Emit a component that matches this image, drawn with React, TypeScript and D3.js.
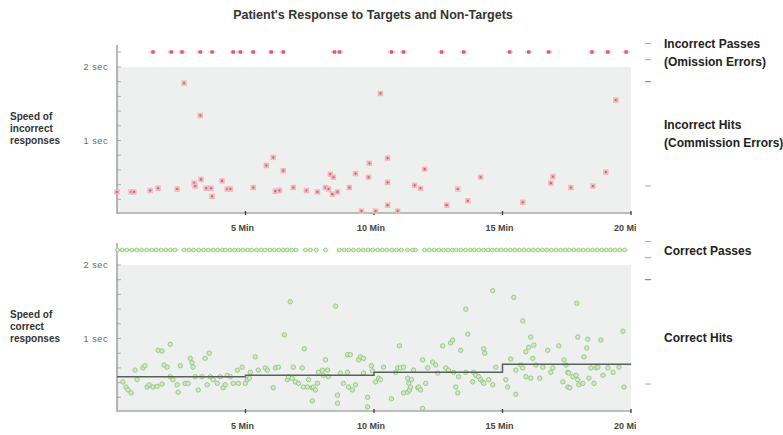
import * as d3 from "d3";

// minutes into the session at which the patient let a stimulus pass
const incorrectPassTimes = [
  1.4, 2.11, 2.53, 3.24, 3.7, 4.52, 4.8, 5.3, 6.0, 6.47, 8.46, 8.66, 10.68, 11.15, 12.63, 13.49,
  15.28, 16.02, 16.8, 18.48, 19.1, 19.81,
];

// [minute, seconds] of wrong responses
const incorrectHits: [number, number][] = [
  [0.0, 0.3], [0.55, 0.3], [0.66, 0.3], [1.29, 0.32], [1.6, 0.35], [2.34, 0.34], [2.61, 1.78],
  [3.0, 0.42], [3.04, 0.38], [3.24, 1.34], [3.27, 0.47], [3.47, 0.35], [3.66, 0.35], [3.7, 0.24],
  [4.09, 0.45], [4.29, 0.34], [4.41, 0.34], [5.3, 0.36], [5.81, 0.66], [6.08, 0.77], [6.16, 0.31],
  [6.32, 0.32], [6.47, 0.59], [6.86, 0.36], [7.37, 0.32], [7.8, 0.3], [8.11, 0.36], [8.23, 0.34],
  [8.38, 0.27], [8.3, 0.54], [8.42, 0.5], [8.58, 0.3], [9.04, 0.36], [9.28, 0.55], [9.79, 0.5],
  [9.82, 0.69], [10.25, 1.64], [10.53, 0.43], [10.53, 0.76], [10.53, 0.12], [9.51, 0.04],
  [10.06, 0.04], [10.92, 0.04], [11.58, 0.39], [11.81, 0.35], [11.97, 0.61], [12.83, 0.12],
  [13.26, 0.34], [13.65, 0.18], [14.15, 0.5], [15.79, 0.16], [16.88, 0.42], [16.96, 0.51],
  [17.66, 0.36], [18.52, 0.38], [19.02, 0.57], [19.41, 1.55],
];

const correctPassTimes = [
  0.02, 0.2, 0.38, 0.58, 0.77, 0.95, 1.16, 1.35, 1.52, 1.72, 1.9, 2.08, 2.26,
  2.61, 2.8, 2.98, 3.18, 3.37, 3.55, 3.74, 3.92, 4.1, 4.22, 4.4, 4.58, 4.72, 4.9, 5.08, 5.24,
  5.43, 5.6, 5.76, 5.95, 6.12, 6.3, 6.47, 6.62, 6.8, 6.96,
  7.33, 7.52, 7.76, 8.11,
  8.65, 8.84, 9.02, 9.2, 9.4, 9.58, 9.77, 9.95, 10.14, 10.32, 10.5, 10.7, 10.88, 11.06, 11.3,
  11.5, 11.62,
  11.97, 12.15, 12.34, 12.52, 12.7, 12.88, 13.05, 13.2, 13.38, 13.56, 13.74, 13.9, 14.08, 14.26,
  14.44, 14.6, 14.78, 14.95, 15.12, 15.3, 15.48, 15.66, 15.84, 16.02, 16.2, 16.38, 16.55, 16.72,
  16.9, 17.08, 17.26, 17.44, 17.6, 17.78, 17.96, 18.14, 18.32, 18.5, 18.68, 18.86, 19.04, 19.2,
  19.38, 19.56, 19.75,
];

const correctHits: [number, number][] = [
  [0.23, 0.41], [0.35, 0.34], [0.43, 0.3], [0.55, 0.26], [0.7, 0.57], [0.78, 0.44], [1.01, 0.6],
  [1.09, 0.63], [1.17, 0.34], [1.25, 0.37], [1.4, 0.34], [1.56, 0.35], [1.6, 0.84], [1.75, 0.83],
  [1.75, 0.38], [1.83, 0.64], [1.95, 0.61], [2.07, 0.92], [2.07, 0.48], [2.18, 0.44], [2.34, 0.37],
  [2.38, 0.27], [2.46, 0.63], [2.65, 0.39], [2.77, 0.39], [2.85, 0.73], [2.92, 0.67], [2.96, 0.61],
  [3.04, 0.48], [3.16, 0.3], [3.31, 0.48], [3.43, 0.73], [3.51, 0.37], [3.59, 0.8], [3.63, 0.48],
  [3.74, 0.44], [3.9, 0.39], [4.02, 0.48], [4.13, 0.33], [4.21, 0.37], [4.29, 0.5], [4.41, 0.48],
  [4.52, 0.39], [4.68, 0.57], [4.72, 0.39], [4.87, 0.61], [4.99, 0.39], [5.07, 0.44], [5.15, 0.46],
  [5.19, 0.54], [5.38, 0.75], [5.5, 0.57], [5.77, 0.6], [5.85, 0.57], [6.08, 0.33], [6.16, 0.6],
  [6.28, 0.61], [6.51, 1.05], [6.63, 0.44], [6.74, 1.5], [6.67, 0.48], [6.82, 0.46], [6.86, 0.61],
  [6.94, 0.41], [7.06, 0.39], [7.21, 0.6], [7.25, 0.34], [7.29, 0.86], [7.41, 0.34], [7.45, 0.44],
  [7.6, 0.33], [7.6, 0.15], [7.64, 0.34], [7.72, 0.3], [7.8, 0.39], [7.84, 0.54], [7.99, 0.57],
  [8.03, 0.5], [8.11, 0.71], [8.19, 0.57], [8.23, 0.48], [8.5, 1.44], [8.58, 0.23], [8.58, 0.12],
  [8.69, 0.53], [8.81, 0.39], [8.97, 0.78], [9.08, 0.78], [8.97, 0.54], [9.01, 0.34], [9.16, 0.3],
  [9.28, 0.37], [9.4, 0.71], [9.47, 0.75], [9.59, 0.73], [9.59, 0.53], [9.75, 0.2], [9.75, 0.07],
  [9.9, 0.63], [9.94, 0.56], [10.06, 0.41], [10.18, 0.46], [10.25, 0.44], [10.37, 0.61],
  [10.68, 0.18], [10.84, 0.54], [10.92, 0.6], [10.99, 0.9], [11.03, 0.6], [11.15, 0.61],
  [11.15, 0.26], [11.31, 0.46], [11.31, 0.27], [11.35, 0.39], [11.38, 0.3], [11.42, 0.34],
  [11.46, 0.44], [11.54, 0.57], [11.7, 0.33], [11.74, 0.34], [11.81, 0.3], [11.89, 0.71],
  [11.89, 0.05], [12.01, 0.39], [12.09, 0.6], [12.28, 0.68], [12.4, 0.64], [12.48, 0.53],
  [12.67, 0.9], [12.79, 0.6], [12.9, 0.57], [12.98, 0.94], [13.06, 0.98], [13.1, 0.54],
  [13.18, 0.34], [13.26, 0.26], [13.29, 0.48], [13.37, 0.84], [13.57, 1.4], [13.65, 1.06],
  [13.57, 0.54], [13.88, 0.54], [13.96, 0.5], [13.84, 0.41], [14.07, 0.48], [14.15, 0.44],
  [14.23, 0.41], [14.27, 0.39], [14.27, 0.86], [14.31, 0.8], [14.46, 0.44], [14.62, 0.37],
  [14.62, 1.65], [14.74, 0.61], [15.13, 0.44], [15.2, 0.34], [15.32, 0.72], [15.44, 1.56],
  [15.52, 0.57], [15.52, 0.24], [15.79, 1.24], [15.71, 0.64], [15.79, 0.6], [15.91, 0.82],
  [15.91, 0.48], [16.1, 0.46], [16.02, 0.88], [16.1, 1.02], [16.18, 0.73], [16.22, 0.91],
  [16.3, 0.64], [16.45, 0.46], [16.57, 0.61], [16.76, 0.84], [16.88, 0.54], [16.96, 0.6],
  [17.19, 0.9], [17.35, 0.41], [17.39, 0.71], [17.47, 0.64], [17.54, 0.54], [17.58, 0.53],
  [17.54, 0.34], [17.62, 0.33], [17.74, 0.48], [17.86, 0.5], [17.93, 0.44], [17.89, 1.48],
  [17.93, 1.02], [17.97, 0.37], [18.13, 0.39], [18.17, 0.75], [18.32, 0.99], [18.28, 0.87],
  [18.36, 0.46], [18.44, 0.6], [18.56, 0.39], [18.64, 0.6], [18.71, 0.61], [18.83, 0.98],
  [18.91, 0.5], [19.1, 0.6], [19.3, 0.54], [19.53, 0.61], [19.69, 1.1], [19.73, 0.34],
];

// median reaction time per 5 minute block
const medianBreaks = [0, 5, 10, 15, 20];
const medianSecs = [0.48, 0.5, 0.54, 0.65];

const xTicks = [5, 10, 15, 20];
const yLabelTicks = [2, 1];
const rightTicks = [2.32, 2.1, 1.8, 0.38];

const W = 783;
const H = 435;
const FONT = "'Liberation Sans', Arial, sans-serif";

const x = d3.scaleLinear().domain([0, 20]).range([117, 631]);

type PanelProps = {
  dy: number;
  kind: "red" | "green";
  hits: [number, number][];
  passes: number[];
  axisLabel: string[];
  rightLabels: { sec: number; lines: string[] }[];
  median?: boolean;
};

function Panel({ dy, kind, hits, passes, axisLabel, rightLabels, median }: PanelProps) {
  const y = d3.scaleLinear().domain([0, 2]).range([214 + dy, 67 + dy]);
  const passY = 52 + dy;
  const axisY = 213 + dy;
  const minor = y.ticks(10).filter((t) => t > 0);

  const stepLine = d3
    .line<[number, number]>()
    .x((d) => x(d[0]))
    .y((d) => y(d[1]));
  const stepPts: [number, number][] = [];
  medianSecs.forEach((s, i) => {
    stepPts.push([medianBreaks[i], s]);
    stepPts.push([medianBreaks[i + 1], s]);
  });

  return (
    <g>
      <rect x={x(0)} y={y(2)} width={x(20) - x(0)} height={axisY - y(2)} fill="#eeefef" />

      {/* left axis */}
      <line x1={x(0)} x2={x(0)} y1={45 + dy} y2={axisY + 1} stroke="#8a8a8a" strokeWidth={1.2} />
      {minor.map((t) => (
        <line key={t} x1={x(0)} x2={x(0) + 4} y1={y(t)} y2={y(t)} stroke="#999" strokeWidth={0.8} />
      ))}
      <line x1={x(0)} x2={x(0) + 4} y1={passY} y2={passY} stroke="#999" strokeWidth={0.8} />
      {yLabelTicks.map((t) => (
        <text key={t} x={108} y={y(t) + 3} textAnchor="end" fontSize={9} fill="#666" fontFamily={FONT} letterSpacing={0.6}>
          {`${t}  sec`}
        </text>
      ))}

      {/* bottom axis */}
      <line x1={x(0)} x2={x(20)} y1={axisY} y2={axisY} stroke="#a8a8a8" strokeWidth={1.6} />
      {xTicks.map((t) => (
        <line key={t} x1={x(t)} x2={x(t)} y1={axisY - 2} y2={axisY + 2} stroke="#444" strokeWidth={1.4} />
      ))}
      <g clipPath="url(#labelClip)">
        {xTicks.map((t) => (
          <text key={t} x={x(t) - 3} y={axisY + 18} textAnchor="middle" fontSize={9} fontWeight="bold" fill="#444" fontFamily={FONT}>
            {`${t} Min`}
          </text>
        ))}
      </g>

      {/* passes row */}
      {passes.map((t, i) =>
        kind === "red" ? (
          <g key={i}>
            <line x1={x(t) - 3.5} x2={x(t) + 3.5} y1={passY} y2={passY} stroke="#f2a4ac" strokeWidth={1} />
            <rect x={x(t) - 1.7} y={passY - 1.7} width={3.4} height={3.4} fill="#e2576a" />
          </g>
        ) : (
          <g key={i}>
            <line x1={x(t) - 3} x2={x(t) + 3} y1={passY} y2={passY} stroke="#a6d896" strokeWidth={1} />
            <circle cx={x(t)} cy={passY} r={1.9} fill="#d9efd0" stroke="#8fcd7c" strokeWidth={0.9} />
          </g>
        )
      )}

      {/* hits */}
      {hits.map(([t, s], i) =>
        kind === "red" ? (
          <g key={i}>
            <rect x={x(t) - 2.7} y={y(s) - 2.7} width={5.4} height={5.4} fill="#f3b6bd" />
            <circle cx={x(t)} cy={y(s)} r={1.1} fill="#b76673" />
          </g>
        ) : (
          <circle key={i} cx={x(t)} cy={y(s)} r={2.2} fill="#d2eac7" stroke="#8cc67a" strokeWidth={0.9} />
        )
      )}

      {median && (
        <path d={stepLine(stepPts) ?? ""} fill="none" stroke="#5a5f5a" strokeWidth={1.5} />
      )}

      {/* right side marks */}
      {rightTicks.map((s, i) => (
        <line key={i} x1={645} x2={651} y1={y(s)} y2={y(s)} stroke={i === 2 ? "#777" : "#aaa"} strokeWidth={1} />
      ))}

      {/* left label */}
      {axisLabel.map((l, i) => (
        <text key={l} x={10} y={dy + 120 + i * 12} fontSize={10} fontWeight="bold" fill="#333" fontFamily={FONT}>
          {l}
        </text>
      ))}

      {/* right labels */}
      {rightLabels.map((r) =>
        r.lines.map((l, i) => (
          <text key={l} x={664} y={y(r.sec) + 3 + i * 18} fontSize={12} fontWeight="bold" fill="#222" fontFamily={FONT}>
            {l}
          </text>
        ))
      )}
    </g>
  );
}

export default function App() {
  return (
    <svg width={W} height={H} style={{ position: "absolute", left: 0, top: 0, background: "#fff" }}>
      <defs>
        <clipPath id="labelClip">
          <rect x={0} y={0} width={636} height={H} />
        </clipPath>
      </defs>
      <text x={373} y={19} textAnchor="middle" fontSize={12.5} fontWeight="bold" fill="#333" fontFamily={FONT}>
        Patient's Response to Targets and Non-Targets
      </text>
      <Panel
        dy={0}
        kind="red"
        hits={incorrectHits}
        passes={incorrectPassTimes}
        axisLabel={["Speed of", "incorrect", "responses"]}
        rightLabels={[
          { sec: 2.3, lines: ["Incorrect Passes", "(Omission Errors)"] },
          { sec: 1.2, lines: ["Incorrect Hits", "(Commission Errors)"] },
        ]}
      />
      <Panel
        dy={198}
        kind="green"
        hits={correctHits}
        passes={correctPassTimes}
        axisLabel={["Speed of", "correct", "responses"]}
        rightLabels={[
          { sec: 2.18, lines: ["Correct Passes"] },
          { sec: 1.0, lines: ["Correct Hits"] },
        ]}
        median
      />
    </svg>
  );
}
